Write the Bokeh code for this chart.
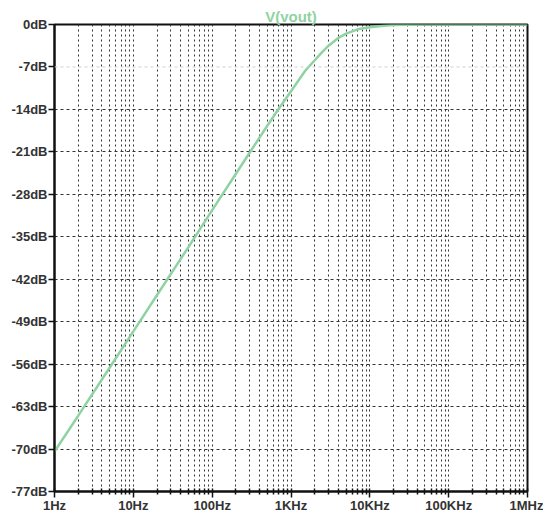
from bokeh.plotting import figure
from bokeh.models import FixedTicker, Range1d, Span, LinearAxis, LogAxis
from bokeh.embed import file_html
from bokeh.resources import INLINE

# Frequency response of V(vout)
freq_hz = [1, 2, 5, 10, 20, 50, 100, 200, 300, 500, 700, 1000, 1500, 2000,
           2500, 3000, 4000, 5000, 7000, 10000, 15000, 20000, 50000, 1000000]
mag_db = [-70.4, -64.5, -56.6, -50.6, -44.6, -36.7, -30.6, -24.6, -21.1, -16.7,
          -13.9, -11.0, -7.7, -5.9, -4.5, -3.5, -2.2, -1.5, -0.8, -0.45, -0.2,
          -0.1, 0.0, 0.0]

x_ticks = [1, 10, 100, 1000, 10000, 100000, 1000000]
x_labels = ["1Hz", "10Hz", "100Hz", "1KHz", "10KHz", "100KHz", "1MHz"]
y_ticks = [0, -7, -14, -21, -28, -35, -42, -49, -56, -63, -70, -77]
y_labels = ["0dB", "-7dB", "-14dB", "-21dB", "-28dB", "-35dB", "-42dB",
            "-49dB", "-56dB", "-63dB", "-70dB", "-77dB"]
x_minor = [m * d for d in x_ticks[:-1] for m in range(2, 10)]

FONT = "Liberation Sans"
LABEL_COLOR = "#333333"
TRACE = "#8fd3a3"

p = figure(width=543, height=515, x_axis_type="log",
           x_range=Range1d(1, 1000000), y_range=Range1d(-77, 0),
           output_backend="svg", toolbar_location=None,
           min_border_left=54, min_border_right=16,
           min_border_top=24, min_border_bottom=24,
           x_axis_location=None, y_axis_location=None)

p.title.text = "V(vout)"
p.title.align = "center"
p.title.text_color = TRACE
p.title.text_font = FONT
p.title.text_font_size = "15px"
p.title.text_font_style = "bold"
p.title.offset = 30
p.title.standoff = 0

# axes
xa = LogAxis(ticker=FixedTicker(ticks=x_ticks, minor_ticks=x_minor),
             major_label_overrides={t: l for t, l in zip(x_ticks, x_labels)})
ya = LinearAxis(ticker=FixedTicker(ticks=y_ticks),
                major_label_overrides={t: l for t, l in zip(y_ticks, y_labels)})
for ax in (xa, ya):
    ax.axis_line_color = "#111111"
    ax.axis_line_width = 2
    ax.major_tick_line_color = "#111111"
    ax.major_tick_line_width = 1.5
    ax.minor_tick_line_color = "#111111"
    ax.minor_tick_line_width = 1.5
    ax.major_label_text_font = FONT
    ax.major_label_text_font_size = "13px"
    ax.major_label_text_font_style = "bold"
    ax.major_label_text_color = LABEL_COLOR
xa.major_tick_in = 3
xa.major_tick_out = 6
xa.minor_tick_in = 3
xa.minor_tick_out = 3
xa.major_label_standoff = 0
ya.major_tick_in = 0
ya.major_tick_out = 6
ya.minor_tick_line_color = None
ya.major_label_standoff = 1
p.add_layout(xa, "below")
p.add_layout(ya, "left")

# grid
p.xgrid.ticker = xa.ticker
p.ygrid.ticker = FixedTicker(ticks=[t for t in y_ticks if t != -7])
p.xgrid.grid_line_color = "#333333"
p.xgrid.grid_line_dash = "2 3"
p.xgrid.grid_line_width = 1
p.xgrid.minor_grid_line_color = "#333333"
p.xgrid.minor_grid_line_dash = "2 3"
p.xgrid.minor_grid_line_width = 1
p.ygrid.grid_line_color = "#333333"
p.ygrid.grid_line_dash = "3 3"
p.ygrid.grid_line_width = 1
p.add_layout(Span(location=-7, dimension="width", line_color="#cfcfcf",
                  line_dash="3 3", line_width=1))

p.outline_line_color = "#111111"
p.outline_line_width = 2
p.outline_line_alpha = 1

p.line(freq_hz, mag_db, line_color=TRACE, line_width=2.5)

open("out.html", "w").write(file_html(p, INLINE))
